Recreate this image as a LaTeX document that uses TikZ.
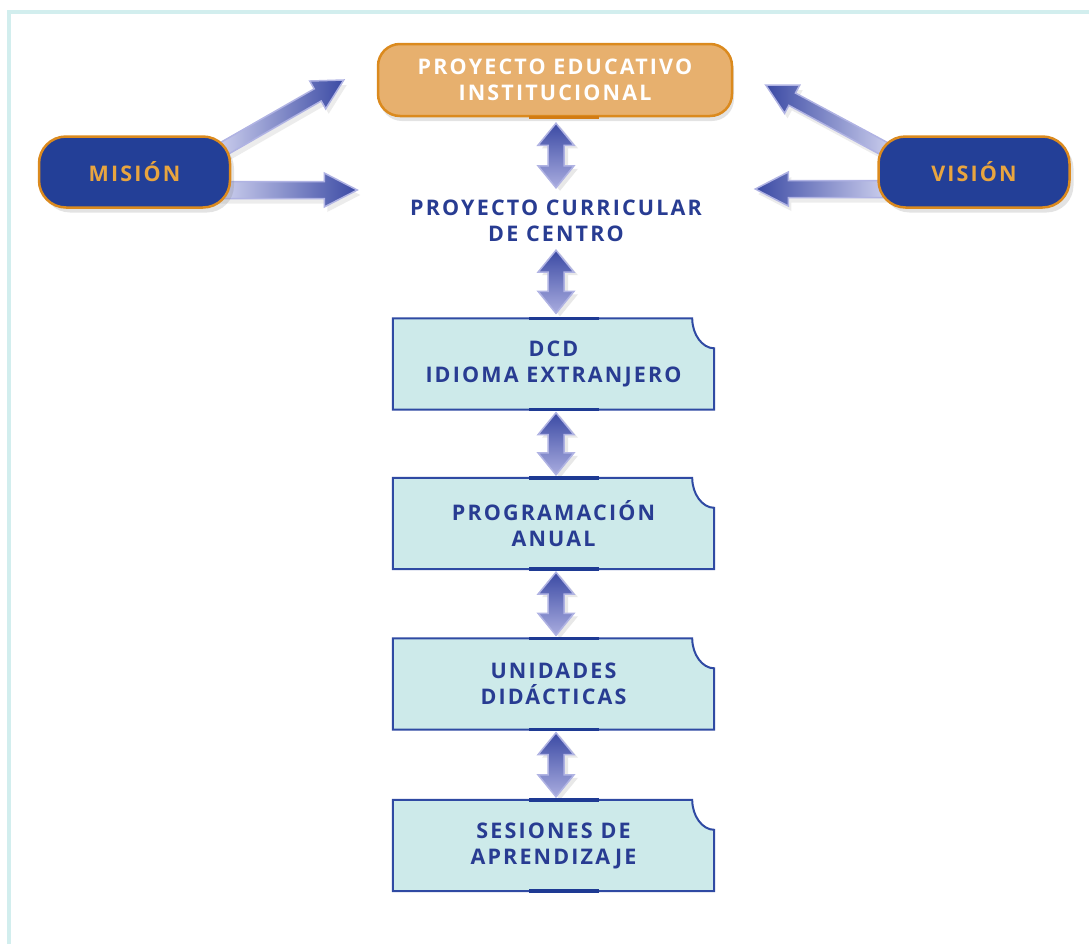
\documentclass[tikz,border=0pt]{standalone}
\usepackage{fontspec}
\setmainfont{Open Sans}[LetterSpace=10]
\usetikzlibrary{calc,shadows}
\pgfdeclarelayer{background}
\pgfsetlayers{background,main}
\definecolor{framec}{HTML}{D2EEEE}
\definecolor{peifill}{HTML}{E7B06E}
\definecolor{orangeline}{HTML}{DB8A1E}
\definecolor{orangedark}{HTML}{D27C14}
\definecolor{misfill}{HTML}{233F97}
\definecolor{mistext}{HTML}{E9A53F}
\definecolor{boxfill}{HTML}{CDEAEA}
\definecolor{boxline}{HTML}{2F4AA3}
\definecolor{segline}{HTML}{1E3A93}
\definecolor{boxtext}{HTML}{283C92}
\definecolor{arrdark}{HTML}{3B4AA4}
\definecolor{arrlight}{HTML}{D3D5F1}
\definecolor{arrmid}{HTML}{A9ACDF}
\definecolor{arroutline}{HTML}{B0B3E3}

\newcommand\fatarrow[6]{% #1 style, #2 tail, #3 tip, #4 shaft half, #5 head half, #6 head length
\path[#1] ($(#2)!#4!90:(#3)$) -- ($(#3)!#6!(#2)!#4!90:(#3)$) -- ($(#3)!#6!(#2)!#5!90:(#3)$) -- (#3) -- ($(#3)!#6!(#2)!#5!-90:(#3)$) -- ($(#3)!#6!(#2)!#4!-90:(#3)$) -- ($(#2)!#4!-90:(#3)$) -- cycle;}

\newcommand\dblarrow[3]{% #1 style, #2 top tip, #3 bottom tip
\path[#1] (#2) -- ($(#2)!22pt!(#3)!18pt!90:(#3)$) -- ($(#2)!22pt!(#3)!8pt!90:(#3)$) -- ($(#3)!22pt!(#2)!8pt!90:(#3)$) -- ($(#3)!22pt!(#2)!18pt!90:(#3)$) -- (#3) -- ($(#3)!22pt!(#2)!18pt!-90:(#3)$) -- ($(#3)!22pt!(#2)!8pt!-90:(#3)$) -- ($(#2)!22pt!(#3)!8pt!-90:(#3)$) -- ($(#2)!22pt!(#3)!18pt!-90:(#3)$) -- cycle;}

\newcommand\notchbox[1]{%
\path[notched] (#1.south west) -- (#1.north west) -- ($(#1.north east)+(-22,0)$)
  .. controls ($(#1.north east)+(-22,16)$) and ($(#1.north east)+(-12,30)$) .. ($(#1.north east)+(0,30)$)
  -- (#1.south east) -- cycle;}

\begin{document}
\begin{tikzpicture}[x=1pt,y=-1pt,
  txt/.style={font=\bfseries\fontsize{21.5}{26}\selectfont, align=center, inner sep=0pt},
  peibox/.style={txt, text=white, fill=peifill, draw=orangeline, line width=2.5pt,
    rounded corners=22pt, minimum width=354pt, minimum height=72pt,
    drop shadow={opacity=0.22, shadow xshift=2pt, shadow yshift=-5pt}},
  pillbox/.style={txt, text=mistext, fill=misfill, draw=orangeline, line width=2.5pt,
    rounded corners=27pt, minimum width=191pt, minimum height=71pt,
    drop shadow={opacity=0.22, shadow xshift=4pt, shadow yshift=-5pt}},
  plaintext/.style={txt, text=boxtext, minimum height=46pt},
  stagebox/.style={txt, text=boxtext, minimum width=321pt, minimum height=91pt},
  notched/.style={fill=boxfill, draw=boxline, line width=2pt},
  seg/.style={draw=segline, line width=3.5pt},
  vdbl/.style={top color=arrdark, bottom color=arrmid, draw=arroutline, line width=1.5pt,
    drop shadow={opacity=0.18, shadow xshift=4pt, shadow yshift=-3pt}},
  rightarr/.style={left color=arrlight, right color=arrdark, draw=arroutline, line width=1.5pt,
    drop shadow={opacity=0.15, shadow xshift=3pt, shadow yshift=-5pt}},
  leftarr/.style={left color=arrdark, right color=arrlight, draw=arroutline, line width=1.5pt,
    drop shadow={opacity=0.15, shadow xshift=3pt, shadow yshift=-5pt}}
]
\useasboundingbox (0,0) rectangle (1089,943);
\clip (0,0) rectangle (1089,943);

% nodes
\node[peibox] (pei) at (555,80) {PROYECTO EDUCATIVO\\INSTITUCIONAL};
\node[pillbox] (mis) at (134.5,172) {MISIÓN};
\node[pillbox] (vis) at (974,172) {VISIÓN};
\node[plaintext] (pcc) at (556,221) {PROYECTO CURRICULAR\\DE CENTRO};
\node[stagebox] (dcd) at (553.5,364) {DCD\\IDIOMA EXTRANJERO};
\node[stagebox] (prog) at (553.5,523.5) {PROGRAMACIÓN\\ANUAL};
\node[stagebox] (unid) at (553.5,684) {UNIDADES\\DIDÁCTICAS};
\node[stagebox] (ses) at (553.5,845.5) {SESIONES DE\\APRENDIZAJE};

% connector end points
\coordinate (d1a) at ($(pei.south)+(1,6)$);
\coordinate (d1b) at ($(pcc.north)+(0,-10)$);
\coordinate (d2a) at ($(pcc.south)+(0,6)$);
\coordinate (d2b) at ($(dcd.north)+(2.5,-5)$);
\coordinate (d3a) at ($(dcd.south)+(2.5,3)$);
\coordinate (d3b) at ($(prog.north)+(2.5,-3)$);
\coordinate (d4a) at ($(prog.south)+(2.5,3)$);
\coordinate (d4b) at ($(unid.north)+(2.5,-3)$);
\coordinate (d5a) at ($(unid.south)+(2.5,3)$);
\coordinate (d5b) at ($(ses.north)+(2.5,-3)$);
\coordinate (m1a) at ($(mis.center)+(80,-18)$);
\coordinate (m1b) at ($(pei.west)+(-33,0)$);
\coordinate (m2a) at ($(mis.east)+(-16,18)$);
\coordinate (m2b) at ($(mis.east)+(126,18)$);
\coordinate (v1a) at ($(vis.center)+(-80,-18)$);
\coordinate (v1b) at ($(pei.east)+(32.5,5)$);
\coordinate (v2a) at ($(vis.west)+(16,17)$);
\coordinate (v2b) at ($(vis.west)+(-122,17)$);

\begin{pgfonlayer}{background}
  \draw[framec, line width=3.5pt] (9,12) rectangle (1200,1100);
  \fatarrow{rightarr}{m1a}{m1b}{7pt}{16pt}{30pt}
  \fatarrow{rightarr}{m2a}{m2b}{8.5pt}{17pt}{33pt}
  \fatarrow{leftarr}{v1a}{v1b}{7pt}{16pt}{30pt}
  \fatarrow{leftarr}{v2a}{v2b}{8.5pt}{17pt}{33pt}
  \dblarrow{vdbl}{d1a}{d1b}
  \dblarrow{vdbl}{d2a}{d2b}
  \dblarrow{vdbl}{d3a}{d3b}
  \dblarrow{vdbl}{d4a}{d4b}
  \dblarrow{vdbl}{d5a}{d5b}
  \notchbox{dcd}
  \notchbox{prog}
  \notchbox{unid}
  \notchbox{ses}
\end{pgfonlayer}

% darker segments on the edges
\draw[draw=orangedark, line width=3.5pt] ($(pei.south)+(-26,0)$) -- ($(pei.south)+(44,0)$);
\foreach \b in {dcd,prog,unid,ses}{
  \draw[seg] ($(\b.north)+(-24.5,0)$) -- ($(\b.north)+(45.5,0)$);
  \draw[seg] ($(\b.south)+(-24.5,0)$) -- ($(\b.south)+(45.5,0)$);
}
\end{tikzpicture}
\end{document}
